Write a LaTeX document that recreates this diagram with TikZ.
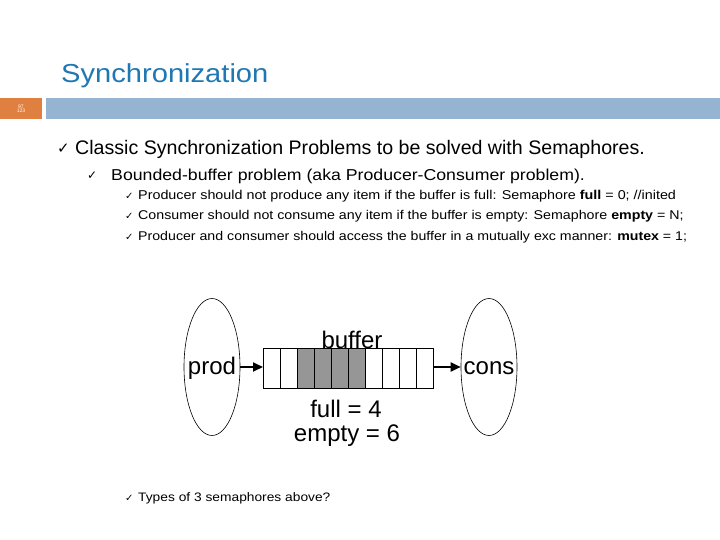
\documentclass[tikz,border=0pt]{standalone}
\usepackage{fontspec}
\setmainfont{Liberation Sans}
\newfontfamily\widefont{Liberation Sans}[FakeStretch=1.12]
\newfontfamily\symfont{DejaVu Sans}
\usetikzlibrary{shapes.geometric,arrows.meta}
\definecolor{titleblue}{RGB}{31,120,180}
\definecolor{barblue}{RGB}{148,180,210}
\definecolor{barorange}{RGB}{224,128,64}
\definecolor{cellgray}{RGB}{150,150,150}
\tikzset{
  txt/.style={anchor=west,inner sep=0pt,text=black},
  chk/.style={anchor=west,inner sep=0pt,font=\symfont},
  cell/.style={draw,line width=0.8pt,minimum width=17pt,minimum height=40pt,inner sep=0pt,anchor=south west},
  proc/.style={draw,ellipse,line width=0.6pt,minimum width=56pt,minimum height=137pt,inner sep=0pt},
  arr/.style={-{Triangle[length=10pt,width=9pt]},line width=1.8pt},
  lbl/.style={inner sep=0pt,font=\fontsize{24}{28}\selectfont}
}
\begin{document}
\begin{tikzpicture}[x=1pt,y=-1pt]
\useasboundingbox (0,0) rectangle (720,540);
\fill[white] (0,0) rectangle (720,540);
% title
\node[txt,text=titleblue,font=\widefont\fontsize{26}{30}\selectfont] (title) at (61,76) {Synchronization};
% bars
\fill[barorange] (0,98) rectangle (42,119);
\fill[barblue] (46,98) rectangle (720,119);
\node[inner sep=0pt,text=white,align=center,font=\fontsize{5}{5}\selectfont] (pg) at (21,108.5) {97\\[-1pt]123};
% bullets
\node[chk,font=\symfont\fontsize{15}{18}\selectfont] (c1) at (57,149) {✓};
\node[txt,font=\fontsize{19.6}{24}\selectfont] (t1) at (75,149) {Classic Synchronization Problems to be solved with Semaphores.};
\node[chk,font=\symfont\fontsize{12}{14}\selectfont] (c2) at (87,176) {✓};
\node[txt,font=\widefont\fontsize{15.8}{20}\selectfont] (t2) at (111,176) {Bounded-buffer problem (aka Producer-Consumer problem).};
\node[chk,font=\symfont\fontsize{10}{12}\selectfont] (c3) at (125,196) {✓};
\node[txt,font=\widefont\fontsize{12.8}{16}\selectfont] (t3) at (138,196) {Producer should not produce any item if the buffer is full: Semaphore \textbf{full} = 0; //inited};
\node[chk,font=\symfont\fontsize{10}{12}\selectfont] (c4) at (125,216) {✓};
\node[txt,font=\widefont\fontsize{12.7}{16}\selectfont] (t4) at (138,216) {Consumer should not consume any item if the buffer is empty: Semaphore \textbf{empty} = N;};
\node[chk,font=\symfont\fontsize{10}{12}\selectfont] (c5) at (125,237) {✓};
\node[txt,font=\widefont\fontsize{12.65}{16}\selectfont] (t5) at (138,237) {Producer and consumer should access the buffer in a mutually exc manner: \textbf{mutex} = 1;};
% diagram
\node[proc] (prod) at (212,367) {};
\node[lbl] (prodt) at (212,368) {prod};
\node[proc] (cons) at (489,367) {};
\node[lbl] (const) at (489,368) {cons};
\foreach \i in {0,...,9} {
  \pgfmathsetmacro{\xx}{263+17*\i}
  \ifnum\i>1 \ifnum\i<6
    \node[cell,fill=cellgray] (b\i) at (\xx,389) {};
  \else
    \node[cell] (b\i) at (\xx,389) {};
  \fi\else
    \node[cell] (b\i) at (\xx,389) {};
  \fi
}
\node[lbl] (buf) at (352,340) {buffer};
\draw[arr] (prod.east) -- (prod.east -| b0.west);
\draw[arr] (prod.east -| b9.east) -- (cons.west);
\node[lbl] (full) at (346,409) {full = 4};
\node[lbl] (empty) at (347,436) {empty = 6};
% bottom bullet
\node[chk,font=\symfont\fontsize{10}{12}\selectfont] (c6) at (125,498) {✓};
\node[txt,font=\widefont\fontsize{12.3}{16}\selectfont] (t6) at (138,498) {Types of 3 semaphores above?};
\end{tikzpicture}
\end{document}
